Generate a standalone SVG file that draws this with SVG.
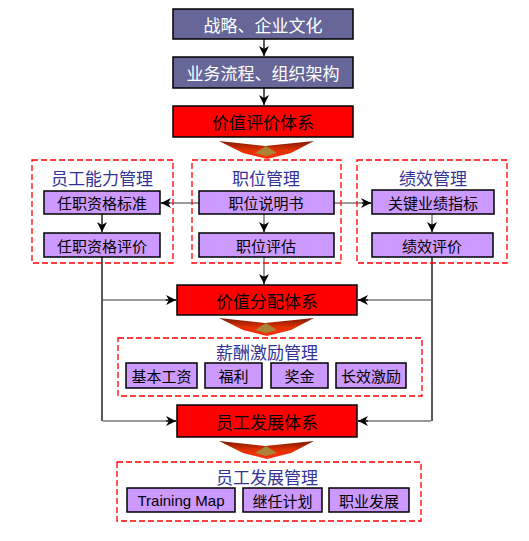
<svg xmlns="http://www.w3.org/2000/svg" width="529" height="541" viewBox="0 0 529 541">
<style>
text{font-family:"Noto Sans CJK SC","Liberation Sans",sans-serif;text-anchor:middle;dominant-baseline:central}
.top{fill:#666699;stroke:#000;stroke-width:1.5}
.top-t{fill:#fff;font-size:17px}
.red{fill:#ff0000;stroke:#000;stroke-width:1.5}
.red-t{fill:#000;font-size:17px}
.grp{fill:none;stroke:#ff0000;stroke-width:1.3;stroke-dasharray:6,3}
.ttl{fill:#333399;font-size:17px}
.pur{fill:#cc99ff;stroke:#000;stroke-width:1.5}
.pur-t{fill:#000;font-size:15px}
.en{font-family:"Liberation Sans",Arial,sans-serif}
.k{fill:none;stroke:#000;stroke-width:1.3}
.g{fill:none;stroke:#999;stroke-width:2}
</style>
<defs>
<marker id="ah" viewBox="0 0 10 10" refX="10" refY="5" markerWidth="10" markerHeight="10" markerUnits="userSpaceOnUse" orient="auto">
<path d="M0,0 L10,5 L0,10 L3,5 Z" fill="#000"/>
</marker>
<linearGradient id="chev" x1="0" y1="0" x2="0" y2="1">
<stop offset="0" stop-color="#7a1a05"/>
<stop offset="0.5" stop-color="#e03000"/>
<stop offset="1" stop-color="#ff3010"/>
</linearGradient>
<g id="chevron">
<polygon points="-46,0 0,5 49,0 26,12 2,18 -22,12" fill="url(#chev)"/>
<polygon points="-10,12 1,5 12,12 1,15" fill="#a09040" opacity="0.85"/>
</g>
</defs>

<g id="connectors">
<line class="k" x1="264" y1="39" x2="264" y2="56" marker-end="url(#ah)"/>
<line class="k" x1="264" y1="88" x2="264" y2="105" marker-end="url(#ah)"/>
<line class="g" x1="199" y1="203" x2="161" y2="203"/>
<line class="k" x1="170" y1="203" x2="161" y2="203" marker-end="url(#ah)"/>
<line class="g" x1="334" y1="203" x2="371" y2="203"/>
<line class="k" x1="362" y1="203" x2="371" y2="203" marker-end="url(#ah)"/>
<line class="k" x1="102" y1="214" x2="102" y2="232" marker-end="url(#ah)"/>
<line class="g" x1="264" y1="214" x2="264" y2="226"/>
<line class="k" x1="264" y1="224" x2="264" y2="232" marker-end="url(#ah)"/>
<line class="g" x1="432" y1="214" x2="432" y2="226"/>
<line class="k" x1="432" y1="224" x2="432" y2="232" marker-end="url(#ah)"/>
<line class="g" x1="264" y1="257" x2="264" y2="278"/>
<line class="k" x1="264" y1="276" x2="264" y2="284" marker-end="url(#ah)"/>
<polyline class="k" points="102,257 102,421"/>
<polyline class="k" points="432,257 432,421"/>
<line class="g" x1="103" y1="300" x2="176" y2="300"/>
<line class="k" x1="166" y1="300" x2="176" y2="300" marker-end="url(#ah)"/>
<line class="g" x1="431" y1="300" x2="358" y2="300"/>
<line class="k" x1="368" y1="300" x2="358" y2="300" marker-end="url(#ah)"/>
<line class="g" x1="103" y1="421" x2="176" y2="421"/>
<line class="k" x1="166" y1="421" x2="176" y2="421" marker-end="url(#ah)"/>
<line class="g" x1="431" y1="421" x2="358" y2="421"/>
<line class="k" x1="368" y1="421" x2="358" y2="421" marker-end="url(#ah)"/>
<use href="#chevron" x="265" y="141"/>
<use href="#chevron" x="265" y="318"/>
<use href="#chevron" x="265" y="441"/>
</g>

<g id="strategy"><rect class="top" x="173" y="9" width="180" height="30"/><text class="top-t" x="263" y="24">战略、企业文化</text></g>
<g id="process"><rect class="top" x="173" y="57" width="180" height="31"/><text class="top-t" x="263" y="72.5">业务流程、组织架构</text></g>
<g id="value-eval"><rect class="red" x="173" y="106" width="180" height="31"/><text class="red-t" x="263" y="121.5">价值评价体系</text></g>

<g id="competency-mgmt">
<rect class="grp" x="32" y="160" width="141" height="103"/>
<text class="ttl" x="102" y="177">员工能力管理</text>
<g id="qual-std"><rect class="pur" x="44" y="191" width="116" height="23"/><text class="pur-t" x="102" y="202.5">任职资格标准</text></g>
<g id="qual-eval"><rect class="pur" x="44" y="233" width="116" height="24"/><text class="pur-t" x="102" y="245">任职资格评价</text></g>
</g>

<g id="position-mgmt">
<rect class="grp" x="192" y="160" width="149" height="103"/>
<text class="ttl" x="266" y="177">职位管理</text>
<g id="job-desc"><rect class="pur" x="199" y="191" width="135" height="23"/><text class="pur-t" x="266" y="202.5">职位说明书</text></g>
<g id="job-eval"><rect class="pur" x="199" y="233" width="135" height="24"/><text class="pur-t" x="266" y="245">职位评估</text></g>
</g>

<g id="performance-mgmt">
<rect class="grp" x="357" y="160" width="150" height="103"/>
<text class="ttl" x="433" y="177">绩效管理</text>
<g id="kpi"><rect class="pur" x="372" y="190" width="122" height="24"/><text class="pur-t" x="433" y="202">关键业绩指标</text></g>
<g id="perf-eval"><rect class="pur" x="372" y="233" width="121" height="24"/><text class="pur-t" x="432" y="245">绩效评价</text></g>
</g>

<g id="value-dist"><rect class="red" x="177" y="285" width="180" height="30"/><text class="red-t" x="267" y="300">价值分配体系</text></g>

<g id="compensation-mgmt">
<rect class="grp" x="118" y="338" width="304" height="58"/>
<text class="ttl" x="267" y="351">薪酬激励管理</text>
<g id="base-salary"><rect class="pur" x="126" y="363" width="71" height="25"/><text class="pur-t" x="161.5" y="375.5">基本工资</text></g>
<g id="welfare"><rect class="pur" x="205" y="363" width="57" height="25"/><text class="pur-t" x="233.5" y="375.5">福利</text></g>
<g id="bonus"><rect class="pur" x="271" y="363" width="57" height="25"/><text class="pur-t" x="299.5" y="375.5">奖金</text></g>
<g id="long-term"><rect class="pur" x="336" y="363" width="70" height="25"/><text class="pur-t" x="371" y="375.5">长效激励</text></g>
</g>

<g id="dev-system"><rect class="red" x="177" y="405" width="180" height="32"/><text class="red-t" x="267" y="421">员工发展体系</text></g>

<g id="development-mgmt">
<rect class="grp" x="117" y="462" width="304" height="59"/>
<text class="ttl" x="267" y="476">员工发展管理</text>
<g id="training-map"><rect class="pur" x="127" y="488" width="108" height="24"/><text class="pur-t en" x="181" y="500">Training Map</text></g>
<g id="succession"><rect class="pur" x="243" y="488" width="79" height="24"/><text class="pur-t" x="282.5" y="500">继任计划</text></g>
<g id="career"><rect class="pur" x="329" y="488" width="80" height="24"/><text class="pur-t" x="369" y="500">职业发展</text></g>
</g>
</svg>
